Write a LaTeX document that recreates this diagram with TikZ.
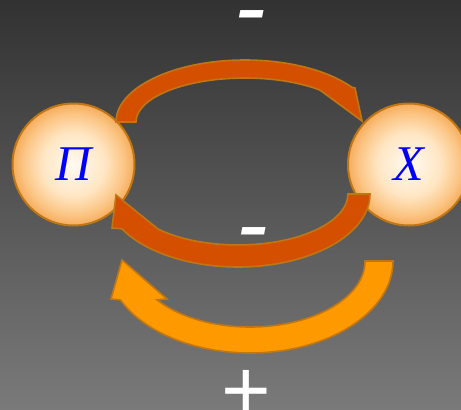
\documentclass[tikz,border=0pt]{standalone}
\usepackage{fontspec}
\setmainfont{Liberation Serif}
\newfontfamily\signfont{Liberation Sans}
\definecolor{bgtop}{RGB}{50,50,50}
\definecolor{bgbot}{RGB}{122,122,122}
\definecolor{edgecol}{RGB}{192,118,18}
\definecolor{darkarrow}{RGB}{212,80,0}
\definecolor{lightarrow}{RGB}{255,153,0}
\definecolor{ballcenter}{RGB}{255,250,242}
\definecolor{ballmid}{RGB}{255,230,195}
\definecolor{ballouter}{RGB}{251,196,130}
\definecolor{balledge}{RGB}{246,172,92}
\pgfdeclareradialshading{ballshade}{\pgfpoint{0bp}{0bp}}{color(0bp)=(ballcenter); color(13bp)=(ballmid); color(21bp)=(ballouter); color(25bp)=(balledge); color(50bp)=(balledge)}
\tikzset{
  ballnode/.style={circle, minimum size=122pt, inner sep=0pt, draw=edgecol, line width=2pt,
    shade, shading=ballshade, text=blue, font=\fontsize{50}{50}\selectfont\itshape},
  bandarrow/.style={draw=edgecol, line width=1.6pt, line join=miter},
  signtext/.style={text=white, anchor=base, inner sep=0pt},
}
\begin{document}
\begin{tikzpicture}[x=1pt,y=-1pt]
\useasboundingbox (0,0) rectangle (461,410);
\shade[top color=bgtop, bottom color=bgbot] (0,0) rectangle (461,410);
\clip (0,0) rectangle (461,410);
\node[ballnode] (pi) at (73.5,164.5) {Π};
\node[ballnode] (x) at (409,164.5) {X};
% top arrow
\filldraw[fill=darkarrow, bandarrow] (116,122) arc[start angle=180, end angle=326, x radius=129, y radius=62]
  -- (355,88) -- (362,121) -- (320,90.1)
  arc[start angle=313.5, end angle=180, x radius=109, y radius=44] -- cycle;
% middle arrow
\filldraw[fill=darkarrow, bandarrow] (370,194) arc[start angle=0, end angle=151.5, x radius=132, y radius=73]
  -- (112,228) -- (116,195) -- (158,229)
  arc[start angle=136.6, end angle=0, x radius=110, y radius=51] -- cycle;
% bottom arrow
\filldraw[fill=lightarrow, bandarrow] (393,261) arc[start angle=0, end angle=155, x radius=143, y radius=92]
  -- (111,299) -- (122,260) -- (167,299) -- (157,299.8)
  arc[start angle=144, end angle=0, x radius=115, y radius=66] -- cycle;
% signs
\node[signtext, font=\signfont\itshape\fontsize{95}{95}\selectfont] (m1) at (250,39) {-};
\node[signtext, font=\signfont\itshape\fontsize{95}{95}\selectfont] (m2) at (252,256) {-};
\node[signtext, font=\signfont\fontsize{85}{85}\selectfont] (p1) at (246.5,419) {+};
\end{tikzpicture}
\end{document}
